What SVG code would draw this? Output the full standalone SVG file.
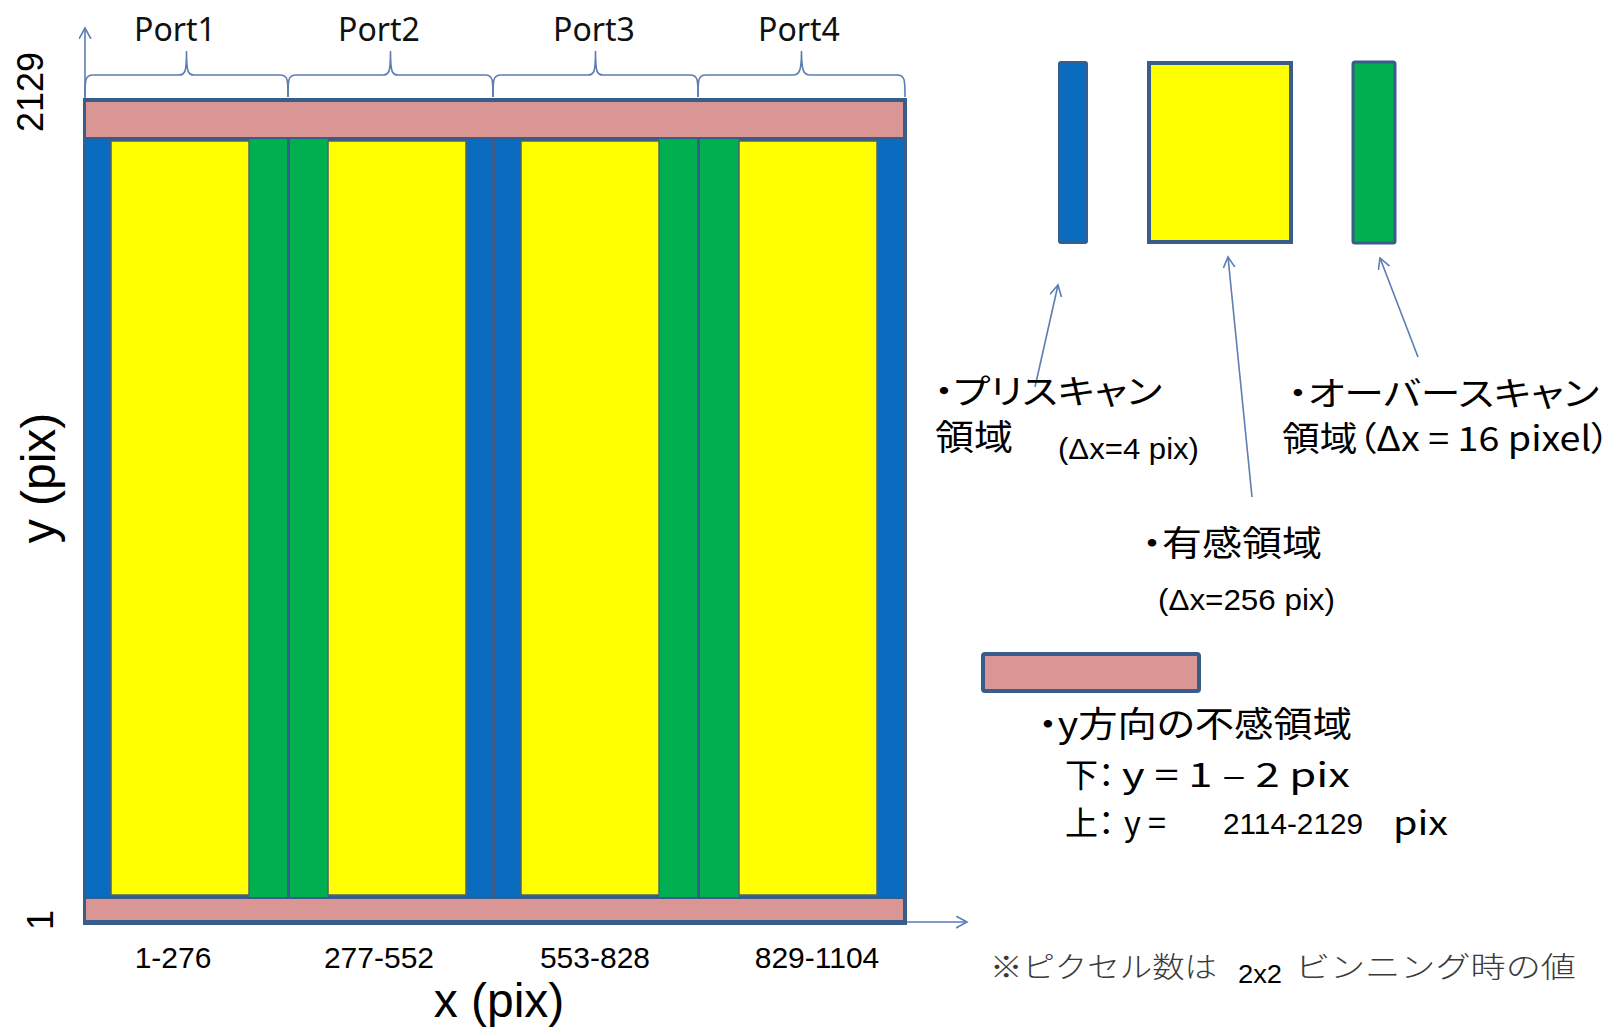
<svg xmlns="http://www.w3.org/2000/svg" width="1613" height="1028" viewBox="0 0 1613 1028">
<defs>
<style>
.frame{fill:#385d8a}
.pink{fill:#d99694}
.blue{fill:#0b6cbf}
.green{fill:#00b050}
.yellow{fill:#ffff00;stroke:#4f6272;stroke-width:1.5}
.brace{fill:none;stroke:#5b7db3;stroke-width:1.6}
.conn{fill:none;stroke:#5b7db3;stroke-width:1.6;marker-end:url(#open)}
.port{font-family:"Noto Sans","Open Sans",sans-serif;font-size:32px;fill:#111;text-anchor:middle}
.rng{font-family:"Liberation Sans",Arial,sans-serif;font-size:30px;fill:#000;text-anchor:middle}
.axis{font-family:"Liberation Sans",Arial,sans-serif;fill:#000;text-anchor:middle}
.jp{font-family:"Noto Sans CJK JP","Noto Sans",sans-serif;fill:#000;font-weight:400;font-feature-settings:"palt"}
.ar{font-family:"Liberation Sans",Arial,sans-serif;fill:#000}
.note{font-family:"Noto Sans CJK JP","Noto Sans",sans-serif;fill:#3a3a3a;font-size:29px;font-weight:300}
.leg{stroke:#385d8a}
</style>
<marker id="open" markerUnits="userSpaceOnUse" markerWidth="14" markerHeight="14" refX="11" refY="6" orient="auto">
<path d="M0,0 L11,6 L0,12" fill="none" stroke="#5b7db3" stroke-width="1.6"/>
</marker>
</defs>
<rect width="1613" height="1028" fill="#ffffff"/>

<g id="connectors">
<line class="conn" x1="85" y1="922" x2="85" y2="28"/>
<line class="conn" x1="85" y1="922" x2="967" y2="922"/>
<line class="conn" x1="1035" y1="387" x2="1058" y2="285"/>
<line class="conn" x1="1252" y1="497" x2="1228" y2="257"/>
<line class="conn" x1="1418" y1="357" x2="1380" y2="258"/>
</g>

<g id="detector">
<rect class="frame" x="83" y="98" width="824" height="827"/>
<rect class="pink" x="86" y="102" width="817" height="35"/>
<rect class="pink" x="86" y="899" width="817" height="21"/>
</g>

<g id="port1">
<path class="brace" d="M85,97 C85,80 85,75 93,75 L179,75 C185,75 186.5,72 186.5,51 C186.5,72 188,75 194,75 L280,75 C288,75 288,80 288,97"/>
<text class="port" x="175" y="41">Port1</text>
<rect class="blue" x="86" y="139" width="25" height="758"/>
<rect class="green" x="249" y="139" width="38" height="758"/>
<rect class="yellow" x="111" y="141" width="138" height="754"/>
<text class="rng" x="173" y="968">1-276</text>
</g>

<g id="port2">
<path class="brace" d="M288,97 C288,80 288,75 296,75 L383,75 C389,75 390.5,72 390.5,51 C390.5,72 392,75 398,75 L485,75 C493,75 493,80 493,97"/>
<text class="port" x="379" y="41">Port2</text>
<rect class="green" x="290" y="139" width="38" height="758"/>
<rect class="blue" x="466" y="139" width="26" height="758"/>
<rect class="yellow" x="328" y="141" width="138" height="754"/>
<text class="rng" x="379" y="968">277-552</text>
</g>

<g id="port3">
<path class="brace" d="M493,97 C493,80 493,75 501,75 L588,75 C594,75 595.5,72 595.5,51 C595.5,72 597,75 603,75 L690,75 C698,75 698,80 698,97"/>
<text class="port" x="594" y="41">Port3</text>
<rect class="blue" x="495" y="139" width="26" height="758"/>
<rect class="green" x="659" y="139" width="38" height="758"/>
<rect class="yellow" x="521" y="141" width="138" height="754"/>
<text class="rng" x="595" y="968">553-828</text>
</g>

<g id="port4">
<path class="brace" d="M698,97 C698,80 698,75 706,75 L793,75 C799,75 801.5,72 801.5,51 C801.5,72 804,75 810,75 L897,75 C905,75 905,80 905,97"/>
<text class="port" x="799" y="41">Port4</text>
<rect class="green" x="700" y="139" width="39" height="758"/>
<rect class="blue" x="877" y="139" width="26" height="758"/>
<rect class="yellow" x="739" y="141" width="138" height="754"/>
<text class="rng" x="817" y="968">829-1104</text>
</g>

<g id="axis-labels">
<text class="axis" font-size="36" transform="translate(43,92) rotate(-90)">2129</text>
<text class="axis" font-size="36" transform="translate(53,920) rotate(-90)">1</text>
<text class="axis" font-size="48" transform="translate(55,478) rotate(-90)">y (pix)</text>
<text class="axis" font-size="48" x="499" y="1017">x (pix)</text>
</g>

<g id="legend-prescan">
<rect class="blue leg" x="1059" y="62" width="28" height="181" rx="2" stroke-width="2"/>
<text class="jp" font-size="34" x="934" y="404" textLength="228" lengthAdjust="spacingAndGlyphs">・プリスキャン</text>
<text class="jp" font-size="35" x="935" y="450" textLength="78" lengthAdjust="spacingAndGlyphs">領域</text>
<text class="ar" font-size="30" x="1058" y="459" textLength="141" lengthAdjust="spacingAndGlyphs">(Δx=4 pix)</text>
</g>

<g id="legend-active">
<rect class="leg" x="1149" y="63" width="142" height="179" fill="#ffff00" stroke-width="4"/>
<text class="jp" font-size="35" x="1142" y="556" textLength="180" lengthAdjust="spacingAndGlyphs">・有感領域</text>
<text class="ar" font-size="30" x="1158" y="610" textLength="177" lengthAdjust="spacingAndGlyphs">(Δx=256 pix)</text>
</g>

<g id="legend-overscan">
<rect class="green leg" x="1353" y="62" width="42" height="181" rx="2" stroke-width="3"/>
<text class="jp" font-size="34" x="1288" y="406" textLength="311" lengthAdjust="spacingAndGlyphs">・オーバースキャン</text>
<text class="jp" font-size="34" x="1282" y="451" textLength="328" lengthAdjust="spacingAndGlyphs">領域（Δx = 16 pixel）</text>
</g>

<g id="legend-dead">
<rect class="pink leg" x="983" y="654" width="216" height="37" rx="2" stroke-width="4"/>
<text class="jp" font-size="35" x="1038" y="737" textLength="314" lengthAdjust="spacingAndGlyphs">・y方向の不感領域</text>
<text class="jp" font-size="33" x="1065" y="787">下：</text>
<text class="jp" font-size="33" x="1122" y="787" textLength="228" lengthAdjust="spacingAndGlyphs">y = 1 – 2 pix</text>
<text class="jp" font-size="33" x="1065" y="835">上：</text>
<text class="jp" font-size="33" x="1124" y="835" textLength="42" lengthAdjust="spacingAndGlyphs">y =</text>
<text class="ar" font-size="30" x="1223" y="834" textLength="140" lengthAdjust="spacingAndGlyphs">2114-2129</text>
<text class="jp" font-size="33" x="1393" y="835" textLength="55" lengthAdjust="spacingAndGlyphs">pix</text>
</g>

<g id="footnote">
<text class="note" x="990" y="978" textLength="227" lengthAdjust="spacingAndGlyphs">※ピクセル数は</text>
<text class="ar" font-size="26" x="1238" y="983" textLength="44" lengthAdjust="spacingAndGlyphs">2x2</text>
<text class="note" x="1295" y="978" textLength="281" lengthAdjust="spacingAndGlyphs">ビンニング時の値</text>
</g>
</svg>
